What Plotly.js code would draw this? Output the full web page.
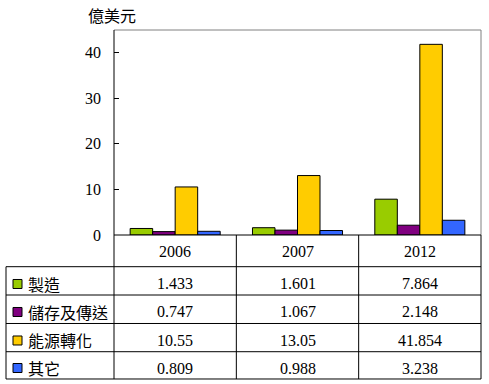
<!DOCTYPE html>
<html>
<head>
<meta charset="utf-8">
<script src="https://cdn.plot.ly/plotly-3.0.1.min.js"></script>
<style>html,body{margin:0;padding:0;background:#fff;}#chart{width:489px;height:384px;}</style>
</head>
<body>
<div id="chart"></div>
<script>
var categories = ['2006', '2007', '2012'];
var seriesNames = ['製造', '儲存及傳送', '能源轉化', '其它'];
var manufacturing = [1.433, 1.601, 7.864];
var storage = [0.747, 1.067, 2.148];
var conversion = [10.55, 13.05, 41.854];
var others = [0.809, 0.988, 3.238];
var seriesValues = [manufacturing, storage, conversion, others];
var seriesColors = ['#99CC00', '#800080', '#FFCC00', '#3366FF'];
var unitLabel = '億美元';
var yTicks = [0, 10, 20, 30, 40];

var numFont = 'Liberation Serif, Times New Roman, serif';
var cjkFont = 'Noto Sans CJK TC, Noto Sans CJK SC, sans-serif';

var traces = seriesNames.map(function (name, i) {
  return {
    type: 'bar',
    name: name,
    x: categories,
    y: seriesValues[i],
    marker: { color: seriesColors[i], line: { color: '#000', width: 1 } },
    hoverinfo: 'none'
  };
});

// table geometry (paper y)
var rowLines = [0, -0.1546, -0.2927, -0.4317, -0.5693, -0.7024];
var headerY = -0.0805;
var rowY = [-0.239, -0.3756, -0.5146, -0.6488];
var leftEdge = (6 - 114) / 367;
var labelX = (26 - 114) / 367;
var nCat = categories.length;

var shapes = [];
function line(x0, x1, y0, y1, color) {
  shapes.push({ type: 'line', xref: 'paper', yref: 'paper', x0: x0, x1: x1, y0: y0, y1: y1,
    line: { color: color || '#000', width: 1 } });
}
// plot frame (gray top & right)
line(0, 1, 1, 1, '#808080');
line(1, 1, 0, 1, '#808080');
// y axis line extended through the table
line(0, 0, rowLines[5], 1);
// table column separators
for (var c = 1; c <= nCat; c++) {
  line(c / nCat, c / nCat, rowLines[5], 0);
}
// horizontal lines
line(0, 1, 0, 0);
for (var r = 1; r < rowLines.length; r++) {
  line(leftEdge, 1, rowLines[r], rowLines[r]);
}
// left border
line(leftEdge, leftEdge, rowLines[5], rowLines[1]);

var annotations = [];
annotations.push({ xref: 'paper', yref: 'paper', x: -0.005, y: 1.073, text: unitLabel,
  showarrow: false, xanchor: 'center', yanchor: 'middle', font: { family: cjkFont, size: 16, color: '#000' } });

categories.forEach(function (cat, j) {
  annotations.push({ xref: 'paper', yref: 'paper', x: (j + 0.5) / nCat, y: headerY, text: cat, showarrow: false,
    xanchor: 'center', yanchor: 'middle', font: { family: numFont, size: 16, color: '#000' } });
});

seriesNames.forEach(function (name, i) {
  shapes.push({ type: 'rect', xref: 'paper', yref: 'paper', xsizemode: 'pixel', ysizemode: 'pixel',
    xanchor: leftEdge, yanchor: rowY[i], x0: 7, x1: 16, y0: -4.5, y1: 4.5,
    fillcolor: seriesColors[i], line: { color: '#000', width: 1 } });
  annotations.push({ xref: 'paper', yref: 'paper', x: labelX, y: rowY[i], text: name, showarrow: false,
    xanchor: 'left', yanchor: 'middle', font: { family: cjkFont, size: 16, color: '#000' } });
  categories.forEach(function (cat, j) {
    annotations.push({ xref: 'paper', yref: 'paper', x: (j + 0.5) / nCat, y: rowY[i], text: String(seriesValues[i][j]),
      showarrow: false, xanchor: 'center', yanchor: 'middle', font: { family: numFont, size: 16, color: '#000' } });
  });
});

var layout = {
  width: 489, height: 384,
  margin: { l: 114, r: 8, t: 30, b: 149, pad: 0 },
  paper_bgcolor: '#fff', plot_bgcolor: '#fff',
  showlegend: false,
  barmode: 'group', bargap: 0.264, bargroupgap: 0,
  xaxis: { type: 'category', categoryorder: 'array', categoryarray: categories, range: [-0.5, nCat - 0.5],
    showticklabels: false, ticks: '', showline: false, showgrid: false, zeroline: false, fixedrange: true },
  yaxis: { range: [0, 45], tickvals: yTicks, ticktext: yTicks.map(String), ticks: 'inside', ticklen: 5, tickcolor: '#000',
    tickwidth: 1, showline: false, showgrid: false, zeroline: false, ticklabelstandoff: 12,
    tickfont: { family: numFont, size: 16, color: '#000' }, fixedrange: true },
  shapes: shapes,
  annotations: annotations
};

Plotly.newPlot('chart', traces, layout, { displayModeBar: false, staticPlot: true });
</script>
</body>
</html>
